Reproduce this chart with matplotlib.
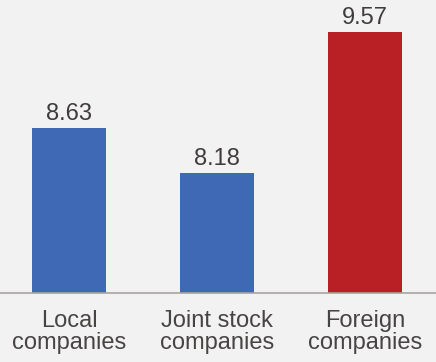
import matplotlib
matplotlib.use("Agg")
import matplotlib.pyplot as plt

categories = ["Local\ncompanies", "Joint stock\ncompanies", "Foreign\ncompanies"]
values = [8.63, 8.18, 9.57]
colors = ["#3f68b5", "#3f68b5", "#b82025"]

plt.rcParams['font.family'] = ['Liberation Sans', 'Arial', 'DejaVu Sans']

fig = plt.figure(figsize=(4.36, 3.62), dpi=100, facecolor="#f2f2f2")
ax = fig.add_axes([0, 69 / 362, 1, 293 / 362])
ax.set_facecolor("#f2f2f2")

x = list(range(len(categories)))
ax.bar(x, values, width=0.5, color=colors, zorder=2)
ax.set_ylim(7.0, 9.89)
ax.set_xlim(-0.466, 2.48)

for xi, v in zip(x, values):
    ax.text(xi, v + 0.03, f"{v:.2f}", ha="center", va="bottom",
            fontsize=17, color="#403c3c")

ax.set_xticks(x)
ax.set_xticklabels(categories, fontsize=17, color="#484444", linespacing=1.0)
ax.tick_params(axis="x", length=0, pad=12)
ax.set_yticks([])
for s in ["top", "left", "right"]:
    ax.spines[s].set_visible(False)
ax.spines["bottom"].set_color("#a8a4a0")
ax.spines["bottom"].set_linewidth(1.2)

fig.savefig("out.png", dpi=100, facecolor=fig.get_facecolor())
